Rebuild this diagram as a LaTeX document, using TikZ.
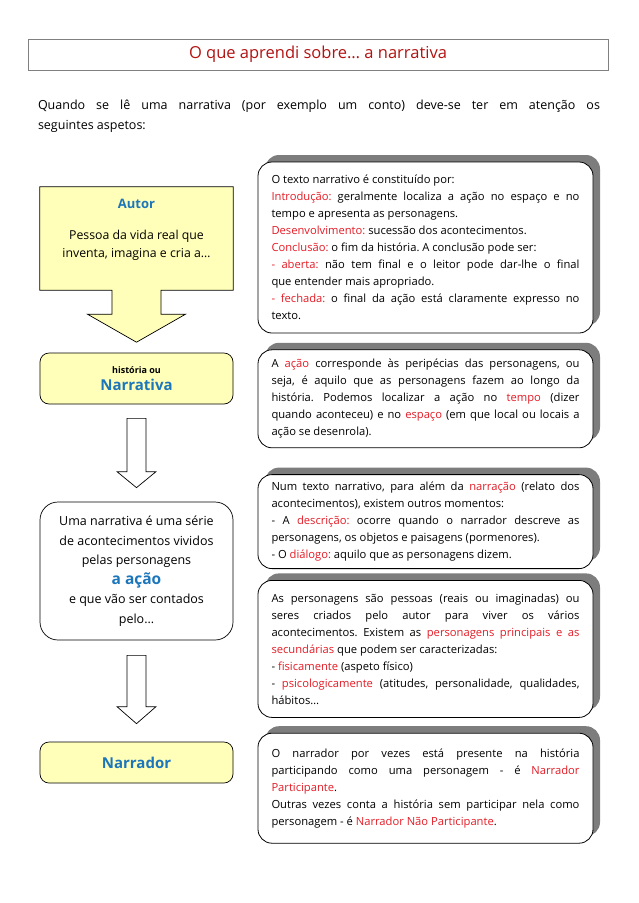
\documentclass[tikz,border=0pt]{standalone}
\usepackage{fontspec}
\setmainfont{Open Sans}
\usepackage{xcolor}
\usetikzlibrary{positioning, calc, shadows, backgrounds}
\definecolor{titlered}{RGB}{178,18,18}
\definecolor{keyred}{RGB}{228,28,38}
\definecolor{keyblue}{RGB}{28,118,188}
\definecolor{boxyellow}{RGB}{255,255,186}
\definecolor{shadowgray}{RGB}{125,125,125}
\newcommand{\kw}[1]{\textcolor{keyred}{#1}}
\newcommand{\kb}[1]{{\bfseries\color{keyblue}#1}}
\frenchspacing

\begin{document}
\begin{tikzpicture}[x=1pt, y=-1pt,
          info/.style={draw, fill=white, rounded corners=14pt, line width=0.8pt,
                       text width=308pt, align=justify, inner xsep=13.5pt, inner ysep=0pt,
                       font=\fontsize{11.2}{17}\selectfont,
                       drop shadow={shadow xshift=7pt, shadow yshift=7pt, fill=shadowgray, opacity=1}},
          stage/.style={draw, fill=boxyellow, rounded corners=9pt, line width=0.7pt,
                        minimum width=193pt, align=center},
          plain/.style={draw, fill=white, rounded corners=18pt, line width=0.7pt,
                        minimum width=193pt, align=center, font=\fontsize{12.5}{19.5}\selectfont},
          blockarr/.style={draw, fill=white, line width=0.7pt},
        ]
        \useasboundingbox (0,0) rectangle (638,903);

        \node[draw=gray, line width=0.5pt, minimum width=580pt, minimum height=31pt,
              text=titlered, font=\fontsize{16.5}{18}\selectfont] (title) at (318,54.5)
              {O que aprendi sobre… a narrativa};

        \node[text width=562pt, align=justify, inner sep=0pt, font=\fontsize{12.5}{20}\selectfont] (intro) at (319,116)
              {Quando se lê uma narrativa (por exemplo um conto) deve-se ter em atenção os\linebreak seguintes aspetos:};

        % left column
        \node[minimum width=193pt, minimum height=103pt, inner sep=0pt] (autor) at (136.5,238.5) {};
        \node[align=center, font=\fontsize{12.3}{18}\selectfont] (autortxt) at ($(autor)+(0,-9)$)
              {{\fontsize{13}{15}\selectfont\kb{Autor}}\\[13pt]Pessoa da vida real que\\inventa, imagina e cria a…};
        \begin{scope}[on background layer]
          \draw[fill=boxyellow, line width=0.7pt] (autor.north west) -- (autor.north east) -- (autor.south east)
            -- ($(autor.south)+(24.5,0)$) -- ($(autor.south)+(24.5,24)$) -- ($(autor.south)+(49,24)$)
            -- ($(autor.south)+(0,52)$) -- ($(autor.south)+(-49,24)$) -- ($(autor.south)+(-24.5,24)$)
            -- ($(autor.south)+(-24.5,0)$) -- (autor.south west) -- cycle;
        \end{scope}

        \node[stage, minimum height=51pt] (narr) at (136.5,378.5)
              {{\fontsize{9}{11}\selectfont\bfseries história ou}\\[5pt]{\fontsize{15}{17}\selectfont\kb{Narrativa}}};

        \node[plain, minimum height=138pt] (acao) at (136.5,571)
              {Uma narrativa é uma série\\de acontecimentos vividos\\pelas personagens\\
               {\fontsize{15.5}{17}\selectfont\kb{a ação}}\\e que vão ser contados\\pelo…};

        \node[stage, minimum height=41pt] (narrador) at (136.5,762.5)
              {\fontsize{15}{17}\selectfont\kb{Narrador}};

        \draw[blockarr] ($(narr.south)+(-9.5,14)$) -- ($(narr.south)+(9.5,14)$) -- ($(acao.north)+(9.5,-30)$)
          -- ($(acao.north)+(19.5,-30)$) -- ($(acao.north)+(0,-14)$) -- ($(acao.north)+(-19.5,-30)$)
          -- ($(acao.north)+(-9.5,-30)$) -- cycle;
        \draw[blockarr] ($(acao.south)+(-9.5,15)$) -- ($(acao.south)+(9.5,15)$) -- ($(narrador.north)+(9.5,-35)$)
          -- ($(narrador.north)+(19.5,-35)$) -- ($(narrador.north)+(0,-18)$) -- ($(narrador.north)+(-19.5,-35)$)
          -- ($(narrador.north)+(-9.5,-35)$) -- cycle;

        % right column
        \node[info, minimum height=171pt] (estrutura) at (425.5,247.5)
              {O texto narrativo é constituído por:\\
               \kw{Introdução:} geralmente localiza a ação no espaço e no\linebreak tempo e apresenta as personagens.\\
               \kw{Desenvolvimento:} sucessão dos acontecimentos.\\
               \kw{Conclusão:} o fim da história. A conclusão pode ser:\\
               \kw{- aberta:} não tem final e o leitor pode dar-lhe o final\linebreak que entender mais apropriado.\\
               \kw{- fechada:} o final da ação está claramente expresso no\linebreak texto.};

        \node[info, minimum height=98pt, below=16pt of estrutura] (accao)
              {A \kw{ação} corresponde às peripécias das personagens, ou\linebreak
               seja, é aquilo que as personagens fazem ao longo da\linebreak
               história. Podemos localizar a ação no \kw{tempo} (dizer\linebreak
               quando aconteceu) e no \kw{espaço} (em que local ou locais a\linebreak
               ação se desenrola).};

        \node[info, minimum height=94pt, below=26pt of accao] (momentos)
              {Num texto narrativo, para além da \kw{narração} (relato dos\linebreak
               acontecimentos), existem outros momentos:\\
               - A \kw{descrição:} ocorre quando o narrador descreve as\linebreak
               personagens, os objetos e paisagens (pormenores).\\
               - O \kw{diálogo:} aquilo que as personagens dizem.};

        \node[info, minimum height=137pt, below=11pt of momentos] (personagens)
              {As personagens são pessoas (reais ou imaginadas) ou\linebreak
               seres criados pelo autor para viver os vários\linebreak
               acontecimentos. Existem as \kw{personagens principais e as}\linebreak
               \kw{secundárias} que podem ser caracterizadas:\\
               - \kw{fisicamente} (aspeto físico)\\
               - \kw{psicologicamente} (atitudes, personalidade, qualidades,\linebreak
               hábitos…};

        \node[info, minimum height=110pt, below=15pt of personagens] (narradortipo)
              {O narrador por vezes está presente na história\linebreak
               participando como uma personagem - é \kw{Narrador}\linebreak
               \kw{Participante}.\\
               Outras vezes conta a história sem participar nela como\linebreak
               personagem - é \kw{Narrador Não Participante}.};
      \end{tikzpicture}
\end{document}
